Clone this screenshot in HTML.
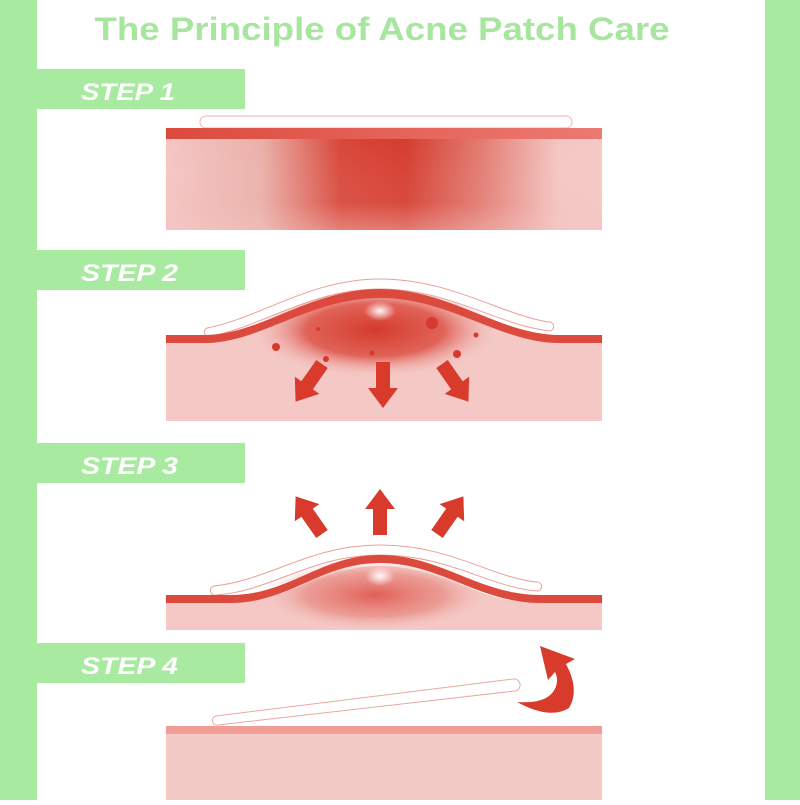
<!DOCTYPE html>
<html><head><style>html,body{margin:0;padding:0;background:#fff}</style></head>
<body>
<svg width="800" height="800" viewBox="0 0 800 800" xmlns="http://www.w3.org/2000/svg">
<defs>
<linearGradient id="h1" x1="0" x2="1" y1="0" y2="0">
<stop offset="0" stop-color="#f4c6c3"/><stop offset="0.22" stop-color="#eab0aa"/>
<stop offset="0.4" stop-color="#d8473a"/><stop offset="0.55" stop-color="#d53c2e"/>
<stop offset="0.72" stop-color="#e27a70"/><stop offset="0.9" stop-color="#f4c6c3"/><stop offset="1" stop-color="#f4c8c5"/>
</linearGradient>
<linearGradient id="v1" x1="0" x2="0" y1="0" y2="1">
<stop offset="0" stop-color="#fff" stop-opacity="0"/><stop offset="0.7" stop-color="#f4c6c3" stop-opacity="0.1"/><stop offset="1" stop-color="#f4c6c3" stop-opacity="0.45"/>
</linearGradient>
<linearGradient id="b1" x1="0" x2="1"><stop offset="0" stop-color="#dc4a3e"/><stop offset="1" stop-color="#ec7a72"/></linearGradient>
<radialGradient id="g2" cx="0.5" cy="0.5" r="0.5">
<stop offset="0" stop-color="#d53a2c"/><stop offset="0.55" stop-color="#dd5044" stop-opacity="0.85"/><stop offset="1" stop-color="#f4c6c3" stop-opacity="0"/>
</radialGradient>
<radialGradient id="g3" cx="0.5" cy="0.5" r="0.5">
<stop offset="0" stop-color="#e06058"/><stop offset="0.6" stop-color="#e88880" stop-opacity="0.7"/><stop offset="1" stop-color="#f4c6c3" stop-opacity="0"/>
</radialGradient>
<radialGradient id="w" cx="0.5" cy="0.5" r="0.5">
<stop offset="0" stop-color="#fff" stop-opacity="0.95"/><stop offset="1" stop-color="#fff" stop-opacity="0"/>
</radialGradient>
<polygon id="ar" points="-7,0 7,0 7,26 15,26 0,46 -15,26 -7,26" fill="#d83a2c"/>
</defs>
<rect x="0" y="0" width="37" height="800" fill="#a8eaa0"/>
<rect x="765" y="0" width="35" height="800" fill="#a8eaa0"/>
<text x="382" y="40" text-anchor="middle" font-family="Liberation Sans, sans-serif" font-weight="bold" font-size="32" fill="#a8e6a0" textLength="575" lengthAdjust="spacingAndGlyphs">The Principle of Acne Patch Care</text>

<g font-family="Liberation Sans, sans-serif" font-weight="bold" font-style="italic" font-size="24" fill="#fff">
<rect x="37" y="69" width="208" height="40" fill="#a8eaa0"/><text x="81" y="100" textLength="94" lengthAdjust="spacingAndGlyphs">STEP 1</text>
<rect x="37" y="250" width="208" height="40" fill="#a8eaa0"/><text x="81" y="281" textLength="97" lengthAdjust="spacingAndGlyphs">STEP 2</text>
<rect x="37" y="443" width="208" height="40" fill="#a8eaa0"/><text x="81" y="474" textLength="97" lengthAdjust="spacingAndGlyphs">STEP 3</text>
<rect x="37" y="643" width="208" height="40" fill="#a8eaa0"/><text x="81" y="674" textLength="97" lengthAdjust="spacingAndGlyphs">STEP 4</text>
</g>

<!-- step 1 -->
<rect x="200" y="116" width="372" height="12" rx="6" fill="#fff" stroke="#f2b2ac" stroke-width="1"/>
<rect x="166" y="139" width="436" height="91" fill="url(#h1)"/>
<rect x="166" y="139" width="436" height="91" fill="url(#v1)"/>
<rect x="166" y="128" width="436" height="11" fill="url(#b1)"/>

<!-- step 2 -->
<path d="M166,342 L205,342 C260,342 310,298 380,298 C450,298 500,342 560,342 L602,342 L602,421 L166,421 Z" fill="#f4c8c5"/>
<ellipse cx="375" cy="330" rx="125" ry="48" fill="url(#g2)"/>
<path d="M207,328 C260,318 310,279 380,279 C450,279 500,314 548,322 A4,4 0 0 1 550,331 C500,326 450,289 380,289 C310,289 260,328 210,336 A4,4 0 0 1 207,328 Z" fill="#fff" stroke="#eaa09a" stroke-width="1"/>
<path d="M166,335 L205,335 C260,335 310,289 380,289 C450,289 500,335 560,335 L602,335 L602,343 L560,343 C500,343 450,298 380,298 C310,298 260,343 205,343 L166,343 Z" fill="#dc4a3e"/>
<ellipse cx="380" cy="311" rx="16" ry="10" fill="url(#w)"/>
<circle cx="432" cy="323" r="6" fill="#d53a2c"/><circle cx="276" cy="347" r="4" fill="#d53a2c"/>
<circle cx="326" cy="359" r="3" fill="#d53a2c"/><circle cx="372" cy="353" r="2.5" fill="#d53a2c"/>
<circle cx="457" cy="354" r="4" fill="#d53a2c"/><circle cx="476" cy="335" r="2.5" fill="#d53a2c"/><circle cx="318" cy="329" r="2" fill="#d53a2c"/>
<use href="#ar" transform="translate(383,362)"/>
<use href="#ar" transform="translate(322,364) rotate(35)"/>
<use href="#ar" transform="translate(442,364) rotate(-35)"/>

<!-- step 3 -->
<path d="M166,602 L235,602 C290,602 320,566 380,566 C440,566 480,602 530,602 L602,602 L602,630 L166,630 Z" fill="#f4c8c5"/>
<ellipse cx="375" cy="595" rx="115" ry="36" fill="url(#g3)"/>
<path d="M214,586 C270,580 310,545 380,545 C450,545 490,577 536,582 A4,4 0 0 1 538,591 C490,588 450,555 380,555 C310,555 270,592 216,595 A4,4 0 0 1 214,586 Z" fill="#fff" stroke="#eaa09a" stroke-width="1"/>
<path d="M166,595 L230,595 C290,595 320,555 380,555 C440,555 480,595 540,595 L602,595 L602,603 L540,603 C480,603 440,563 380,563 C320,563 290,603 230,603 L166,603 Z" fill="#dc4a3e"/>
<ellipse cx="380" cy="576" rx="15" ry="10" fill="url(#w)"/>
<use href="#ar" transform="translate(380,535) rotate(180)"/>
<use href="#ar" transform="translate(322,534) rotate(145)"/>
<use href="#ar" transform="translate(437,534) rotate(-145)"/>

<!-- step 4 -->
<rect x="166" y="734" width="436" height="66" fill="#f4cac7"/>
<rect x="166" y="726" width="436" height="8" fill="#f19c94"/>
<path d="M216,716 L513,679 A6,6 0 0 1 515,691 L218,725 A4.5,4.5 0 0 1 216,716 Z" fill="#fff" stroke="#eaa8a2" stroke-width="1"/>
<path d="M540,646 L575,659 L566,664 Q580,690 569,708 Q550,720 517,702 Q544,704 553,692 Q560,682 555,672 L548,680 Z" fill="#d83a2c"/>
</svg>
</body></html>
